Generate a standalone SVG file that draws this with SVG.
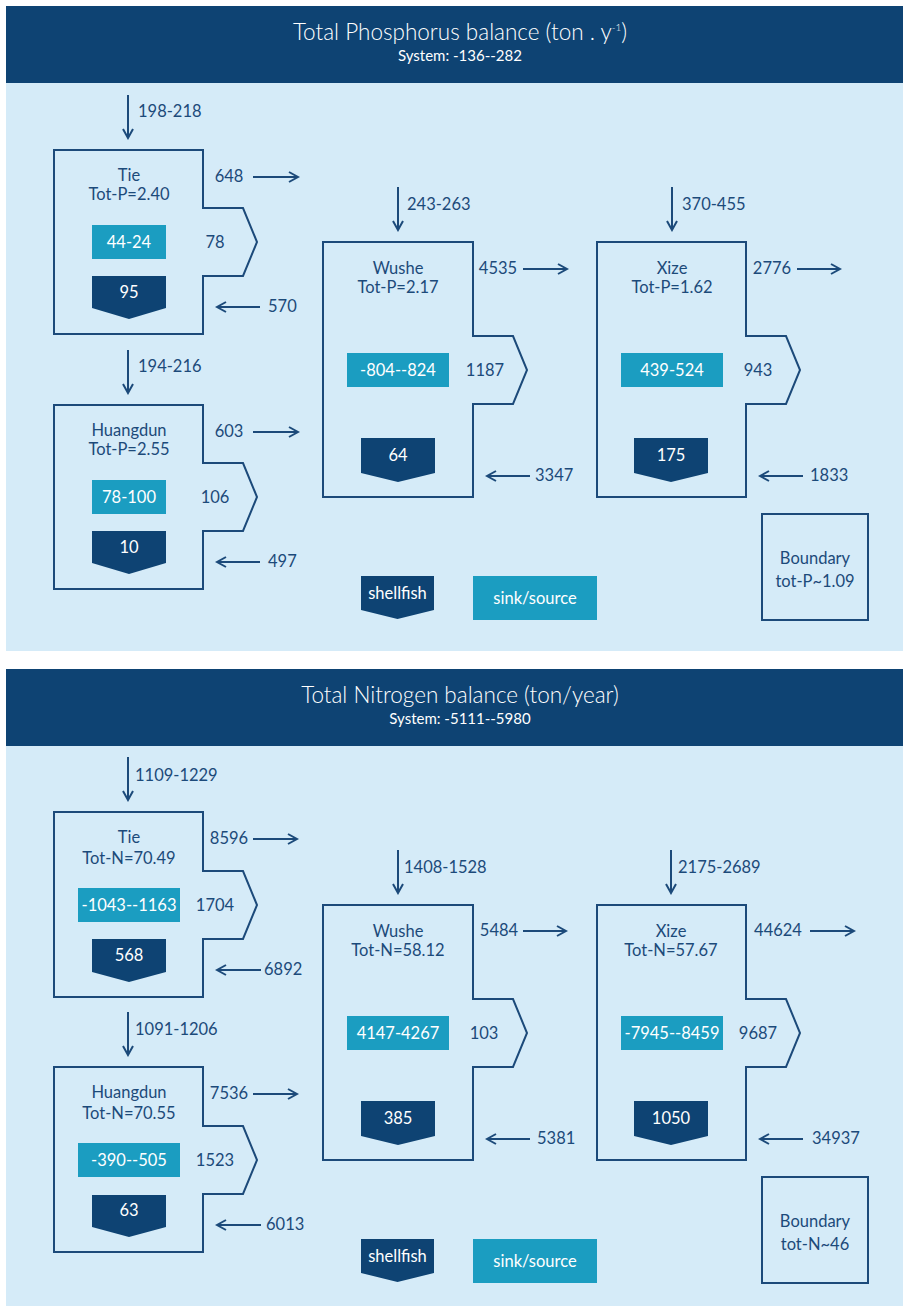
<svg xmlns="http://www.w3.org/2000/svg" width="903" height="1308" viewBox="0 0 903 1308">
<style>
text{font-family:Lato,"Open Sans","Liberation Sans",sans-serif;fill:#1c4a7a;font-size:16.5px}
.c{text-anchor:middle}
.w{fill:#ffffff}
.hd{fill:#0e4373}
.bg{fill:#d5ebf8}
.box{fill:none;stroke:#1c4a7a;stroke-width:2}
.sink{fill:#1b9dc1}
.shell{fill:#0e4373}
.ar{stroke:#1c4a7a;stroke-width:2;fill:none;marker-end:url(#ah)}
.t1{font-size:22.5px;fill:#ffffff;text-anchor:middle;font-weight:300}
.t2{font-size:15px;fill:#ffffff;text-anchor:middle}
</style>
<defs>
<marker id="ah" viewBox="-11 -7 13 14" refX="0" refY="0" markerWidth="13" markerHeight="14" markerUnits="userSpaceOnUse" orient="auto">
<path d="M-9,-5 L0,0 L-9,5" fill="none" stroke="#1c4a7a" stroke-width="2"/>
</marker>
</defs>
<rect width="903" height="1308" fill="#ffffff"/>
<!-- Phosphorus panel -->
<g id="header-p">
<rect class="hd" x="6" y="6" width="897" height="77"/>
<rect class="bg" x="6" y="83" width="897" height="568"/>
<text class="t1" x="460" y="40">Total Phosphorus balance (ton . y<tspan font-size="10" dy="-9">-1</tspan><tspan dy="9">)</tspan></text>
<text class="t2" x="460" y="61">System: -136--282</text>
</g>
<g id="header-n">
<rect class="hd" x="6" y="669" width="897" height="77"/>
<rect class="bg" x="6" y="746" width="897" height="560"/>
<text class="t1" x="460" y="703">Total Nitrogen balance (ton/year)</text>
<text class="t2" x="460" y="724">System: -5111--5980</text>
</g>

<g id="tie-p">
<path class="box" d="M54,150 H203 V208 H243 L257,242 L243,276 H203 V334 H54 Z"/>
<text class="c" x="129" y="181">Tie</text>
<text class="c" x="129" y="200">Tot-P=2.40</text>
<rect class="sink" x="92" y="225" width="74" height="34"/>
<text class="c w" x="129" y="247.5">44-24</text>
<text class="c" x="215" y="247.5">78</text>
<path class="shell" d="M92,276 H166 V308 L129,319 L92,308 Z"/>
<text class="c w" x="129" y="298">95</text>
</g>
<g id="huangdun-p">
<path class="box" d="M54,405 H203 V463 H243 L257,497 L243,531 H203 V589 H54 Z"/>
<text class="c" x="129" y="436">Huangdun</text>
<text class="c" x="129" y="455">Tot-P=2.55</text>
<rect class="sink" x="92" y="480" width="74" height="34"/>
<text class="c w" x="129" y="502.5">78-100</text>
<text class="c" x="215" y="502.5">106</text>
<path class="shell" d="M92,531 H166 V563 L129,574 L92,563 Z"/>
<text class="c w" x="129" y="553">10</text>
</g>
<g id="wushe-p">
<path class="box" d="M323,242 H473 V336 H513 L527,370 L513,404 H473 V497 H323 Z"/>
<text class="c" x="398" y="274">Wushe</text>
<text class="c" x="398" y="293">Tot-P=2.17</text>
<rect class="sink" x="347" y="353" width="102" height="34"/>
<text class="c w" x="398" y="375.5">-804--824</text>
<text class="c" x="485" y="375.5">1187</text>
<path class="shell" d="M361,438 H435 V473 L398,482 L361,473 Z"/>
<text class="c w" x="398" y="461">64</text>
</g>
<g id="xize-p">
<path class="box" d="M597,242 H746 V336 H786 L800,370 L786,404 H746 V497 H597 Z"/>
<text class="c" x="672" y="274">Xize</text>
<text class="c" x="672" y="293">Tot-P=1.62</text>
<rect class="sink" x="621" y="353" width="102" height="34"/>
<text class="c w" x="672" y="375.5">439-524</text>
<text class="c" x="758" y="375.5">943</text>
<path class="shell" d="M634,438 H708 V473 L671,482 L634,473 Z"/>
<text class="c w" x="671" y="461">175</text>
</g>
<g id="legend-p">
<path class="shell" d="M361,576 H434 V610 L397.5,619 L361,610 Z"/>
<text class="c w" x="397.5" y="599">shellfish</text>
<rect class="sink" x="473" y="576" width="124" height="44"/>
<text class="c w" x="535" y="603.5">sink/source</text>
</g>
<g id="boundary-p">
<rect class="box" x="762" y="514" width="106" height="106"/>
<text class="c" x="815" y="564">Boundary</text>
<text class="c" x="815" y="587">tot-P~1.09</text>
</g>
<g id="connectors-p">
<line class="ar" x1="128" y1="95" x2="128" y2="138"/>
<text x="138" y="117">198-218</text>
<line class="ar" x1="253" y1="177" x2="298" y2="177"/>
<text class="c" x="229" y="182">648</text>
<line class="ar" x1="260" y1="307" x2="217" y2="307"/>
<text x="268" y="312">570</text>
<line class="ar" x1="128" y1="350" x2="128" y2="393"/>
<text x="138" y="372">194-216</text>
<line class="ar" x1="253" y1="432" x2="298" y2="432"/>
<text class="c" x="229" y="437">603</text>
<line class="ar" x1="260" y1="562" x2="217" y2="562"/>
<text x="268" y="567">497</text>
<line class="ar" x1="398" y1="187" x2="398" y2="230"/>
<text x="407" y="210">243-263</text>
<line class="ar" x1="523" y1="269" x2="567" y2="269"/>
<text class="c" x="498" y="274">4535</text>
<line class="ar" x1="530" y1="476" x2="487" y2="476"/>
<text x="535" y="481">3347</text>
<line class="ar" x1="672" y1="187" x2="672" y2="230"/>
<text x="682" y="210">370-455</text>
<line class="ar" x1="797" y1="269" x2="840" y2="269"/>
<text class="c" x="772" y="274">2776</text>
<line class="ar" x1="803" y1="476" x2="760" y2="476"/>
<text x="810" y="481">1833</text>
</g>

<!-- Nitrogen panel -->
<g id="tie-n">
<path class="box" d="M54,812 H203 V871 H243 L257,905 L243,939 H203 V997 H54 Z"/>
<text class="c" x="129" y="843">Tie</text>
<text class="c" x="129" y="864">Tot-N=70.49</text>
<rect class="sink" x="78" y="888" width="102" height="34"/>
<text class="c w" x="129" y="910.5">-1043--1163</text>
<text class="c" x="215" y="910.5">1704</text>
<path class="shell" d="M92,939 H166 V972 L129,982 L92,972 Z"/>
<text class="c w" x="129" y="961">568</text>
</g>
<g id="huangdun-n">
<path class="box" d="M54,1067 H203 V1126 H243 L257,1160 L243,1194 H203 V1252 H54 Z"/>
<text class="c" x="129" y="1098">Huangdun</text>
<text class="c" x="129" y="1119">Tot-N=70.55</text>
<rect class="sink" x="78" y="1143" width="102" height="34"/>
<text class="c w" x="129" y="1165.5">-390--505</text>
<text class="c" x="215" y="1165.5">1523</text>
<path class="shell" d="M92,1195 H166 V1227 L129,1237 L92,1227 Z"/>
<text class="c w" x="129" y="1216">63</text>
</g>
<g id="wushe-n">
<path class="box" d="M323,905 H473 V999 H513 L527,1033 L513,1067 H473 V1160 H323 Z"/>
<text class="c" x="398" y="937">Wushe</text>
<text class="c" x="398" y="956">Tot-N=58.12</text>
<rect class="sink" x="347" y="1016" width="102" height="34"/>
<text class="c w" x="398" y="1038.5">4147-4267</text>
<text class="c" x="484" y="1038.5">103</text>
<path class="shell" d="M361,1101 H435 V1136 L398,1145 L361,1136 Z"/>
<text class="c w" x="398" y="1124">385</text>
</g>
<g id="xize-n">
<path class="box" d="M597,905 H746 V999 H786 L800,1033 L786,1067 H746 V1160 H597 Z"/>
<text class="c" x="671" y="937">Xize</text>
<text class="c" x="671" y="956">Tot-N=57.67</text>
<rect class="sink" x="621" y="1016" width="102" height="34"/>
<text class="c w" x="672" y="1038.5">-7945--8459</text>
<text class="c" x="758" y="1038.5">9687</text>
<path class="shell" d="M634,1101 H708 V1136 L671,1145 L634,1136 Z"/>
<text class="c w" x="671" y="1124">1050</text>
</g>
<g id="legend-n">
<path class="shell" d="M361,1239 H434 V1273 L397.5,1282 L361,1273 Z"/>
<text class="c w" x="397.5" y="1262">shellfish</text>
<rect class="sink" x="473" y="1239" width="124" height="44"/>
<text class="c w" x="535" y="1266.5">sink/source</text>
</g>
<g id="boundary-n">
<rect class="box" x="762" y="1177" width="106" height="106"/>
<text class="c" x="815" y="1227">Boundary</text>
<text class="c" x="815" y="1250">tot-N~46</text>
</g>
<g id="connectors-n">
<line class="ar" x1="128" y1="757" x2="128" y2="800"/>
<text x="135" y="781">1109-1229</text>
<line class="ar" x1="253" y1="839" x2="297" y2="839"/>
<text class="c" x="229" y="844">8596</text>
<line class="ar" x1="261" y1="970" x2="217" y2="970"/>
<text x="264" y="975">6892</text>
<line class="ar" x1="128" y1="1012" x2="128" y2="1055"/>
<text x="135" y="1035">1091-1206</text>
<line class="ar" x1="253" y1="1094" x2="297" y2="1094"/>
<text class="c" x="229" y="1099">7536</text>
<line class="ar" x1="261" y1="1225" x2="217" y2="1225"/>
<text x="266" y="1230">6013</text>
<line class="ar" x1="398" y1="850" x2="398" y2="893"/>
<text x="404" y="873">1408-1528</text>
<line class="ar" x1="523" y1="931" x2="566" y2="931"/>
<text class="c" x="499" y="936">5484</text>
<line class="ar" x1="530" y1="1139" x2="487" y2="1139"/>
<text x="537" y="1144">5381</text>
<line class="ar" x1="671" y1="850" x2="671" y2="893"/>
<text x="678" y="873">2175-2689</text>
<line class="ar" x1="810" y1="931" x2="854" y2="931"/>
<text class="c" x="778" y="936">44624</text>
<line class="ar" x1="803" y1="1139" x2="760" y2="1139"/>
<text x="812" y="1144">34937</text>
</g>
</svg>
